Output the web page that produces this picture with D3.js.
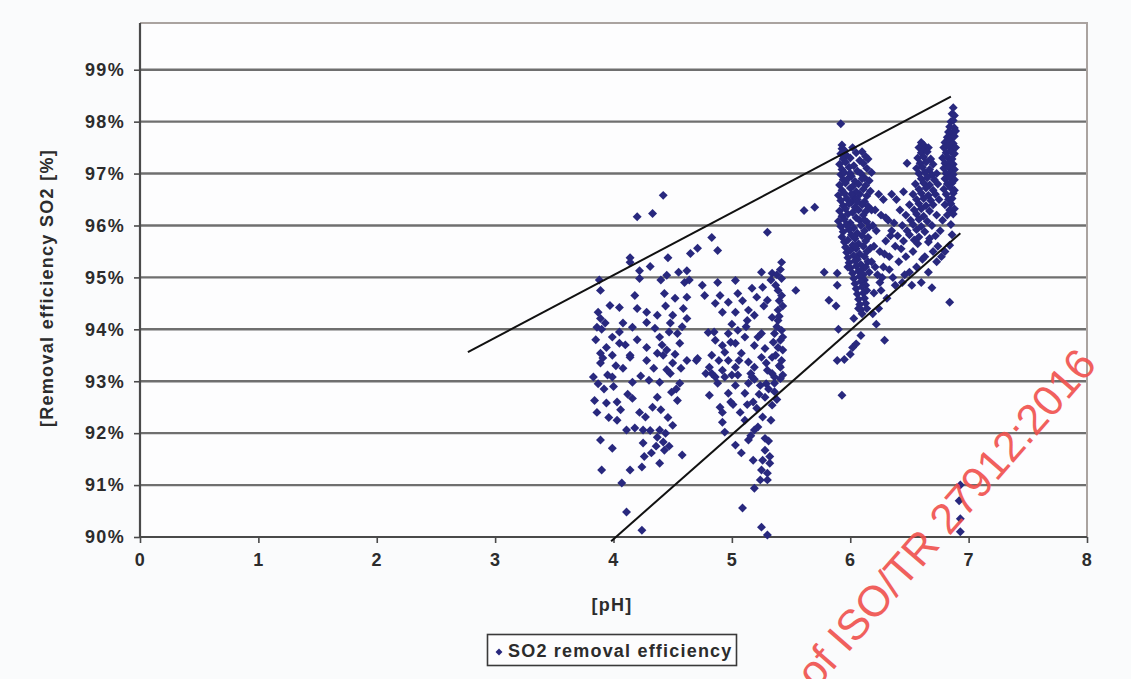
<!DOCTYPE html>
<html><head><meta charset="utf-8">
<script src="https://cdn.jsdelivr.net/npm/d3@7/dist/d3.min.js"></script>
<style>
html,body{margin:0;padding:0;background:#fafbfc;}
svg{display:block;}
text{font-family:"Liberation Sans",Arial,sans-serif;}
</style></head>
<body>
<svg id="chart" width="1131" height="679"></svg>
<script>
// ---- data (pH, SO2 removal efficiency %) ----
const lowPhPoints = [
[4.42,96.58],[4.20,96.17],[4.33,96.23],[4.14,95.38],[4.14,95.29],[4.22,95.13],[4.31,95.21],[4.46,95.38],
[4.65,95.46],[4.62,95.13],[4.45,95.04],[4.22,94.98],[3.89,94.75],[4.43,94.69],[4.62,94.62],[3.97,94.46],
[4.05,94.42],[4.20,94.40],[4.28,94.33],[4.37,94.27],[4.59,94.40],[4.62,94.21],[3.87,94.33],[3.89,94.21],
[3.93,94.12],[4.08,94.12],[4.16,94.04],[4.28,94.13],[4.48,94.12],[4.50,94.27],[3.86,94.04],[3.99,93.85],
[4.39,93.85],[4.54,93.92],[3.94,93.65],[4.05,93.73],[4.28,93.65],[4.45,93.60],[4.56,93.73],[3.89,93.54],
[4.14,93.50],[4.37,93.54],[3.89,93.35],[3.99,93.50],[4.14,93.46],[4.28,93.40],[4.42,93.50],[4.50,93.35],
[4.62,93.40],[4.70,93.40],[3.83,93.08],[3.99,93.08],[4.08,93.25],[4.16,92.98],[4.39,92.98],[4.48,93.15],
[4.56,92.96],[4.49,92.79],[3.84,92.63],[3.94,92.58],[4.03,92.60],[4.16,92.67],[4.37,92.69],[4.54,92.63],
[4.22,92.40],[4.27,92.31],[4.03,92.25],[4.11,92.06],[4.18,92.10],[4.25,92.06],[4.39,92.06],[4.50,92.15],
[4.37,91.92],[4.42,91.83],[3.89,91.87],[3.99,91.71],[4.25,91.81],[4.32,91.62],[4.43,91.67],[4.58,91.58],
[4.39,91.42],[3.90,91.29],[4.14,91.29],[4.24,91.35],[4.07,91.04],[4.11,90.48],[4.24,90.13],
[3.90,94.00],[4.45,93.22],[4.52,93.52],[4.35,94.02],[4.30,93.02],[4.20,93.80],[4.00,92.90],[3.95,93.12],
[4.60,94.90],[4.55,95.10],[3.86,92.40],[3.92,92.85],[4.33,92.50],[4.46,92.30],[4.05,93.95],[4.18,94.65],
[4.40,94.95],[4.57,93.25],[3.88,94.95],[4.26,91.55],[4.47,91.75],[4.12,92.75],
[3.85,93.80],[3.91,93.45],[3.87,92.95],[3.96,92.30],[4.02,93.30],[4.44,94.45],[4.52,94.60],[4.58,94.05],
[4.41,93.70],[4.47,93.95],[4.34,93.25],[4.40,92.45],[4.44,92.00],[4.23,93.10],[4.10,93.70],[4.06,92.45],
[4.31,92.05],[4.36,91.75],[4.64,94.95],[4.53,92.85]
];
const midPhPoints = [
[5.30,95.87],[4.83,95.77],[4.71,95.56],[4.88,95.52],[5.42,95.29],[5.25,95.10],[5.34,95.08],[5.42,94.98],
[4.88,94.90],[5.03,94.94],[4.77,94.65],[4.97,94.52],[5.05,94.69],[5.17,94.79],[5.26,94.81],[5.21,94.62],
[5.30,94.56],[5.39,94.75],[4.86,94.50],[4.92,94.33],[5.03,94.33],[5.14,94.37],[5.19,94.27],[5.13,94.17],
[5.39,94.37],[5.39,94.17],[5.34,94.23],[4.80,93.94],[4.97,93.92],[5.05,93.98],[5.11,93.85],[5.25,93.92],
[5.36,93.92],[5.42,93.98],[5.41,93.79],[4.86,93.79],[4.92,93.69],[5.03,93.73],[5.19,93.69],[5.28,93.63],
[5.39,93.65],[5.43,93.60],[4.71,93.44],[4.83,93.50],[4.94,93.56],[4.97,93.40],[5.08,93.54],[5.14,93.37],
[5.25,93.46],[5.34,93.46],[5.42,93.40],[4.81,93.27],[4.92,93.21],[5.03,93.27],[5.19,93.27],[5.30,93.21],
[5.41,93.27],[4.86,93.08],[5.00,93.12],[5.17,93.08],[5.36,93.08],[4.83,93.15],[4.94,93.08],[5.05,93.12],
[5.19,93.04],[5.34,93.15],[5.43,93.12],[4.88,92.96],[5.03,92.92],[5.14,92.96],[5.24,92.92],[5.36,92.96],
[4.81,92.73],[4.97,92.77],[5.11,92.77],[5.18,92.60],[5.28,92.69],[5.34,92.54],[4.90,92.50],[4.92,92.40],
[5.07,92.40],[5.21,92.48],[5.26,92.31],[5.11,92.25],[4.92,92.21],[4.94,92.02],[5.19,92.06],[5.22,92.12],
[5.14,91.87],[5.03,91.77],[5.08,91.62],[5.28,91.67],[5.26,91.48],[5.18,91.48],[5.32,91.42],[5.25,91.29],
[5.30,91.23],[5.24,91.10],[5.30,91.10],[5.19,90.94],[5.09,90.56],[5.25,90.19],[5.30,90.04],
[5.40,94.55],[5.37,94.85],[5.41,95.15],[5.38,94.05],[5.43,93.85],[5.35,93.75],[5.40,93.30],[5.36,92.80],
[5.31,92.85],[5.29,93.35],[4.75,94.85],[4.90,94.65],[5.00,94.10],[5.09,94.55],[5.16,93.15],[4.99,92.60],
[5.54,94.75],[5.32,91.55],[5.28,91.90],[5.33,92.25],
[5.38,95.05],[5.42,94.65],[5.40,94.25],[5.43,94.45],[5.37,93.50],[5.41,93.05],[5.38,92.65],[5.33,94.95],
[5.27,94.45],[5.22,93.85],[5.12,94.05],[5.06,93.40],[4.99,93.75],[4.89,93.40],[4.85,93.95],[4.78,93.15],
[5.01,92.55],[5.13,92.55],[5.23,92.75],[5.29,92.95],[5.16,91.95],[5.31,91.85]
];
const nearSixPoints = [
[5.92,97.96],[5.93,97.55],[5.61,96.29],[5.70,96.35],[5.78,95.10],[5.89,95.08],[5.89,94.85],[5.82,94.56],
[5.88,94.45],[5.90,94.00],[5.95,93.42],[5.89,93.40],[6.00,93.52],[6.02,93.65],[6.05,93.72],[6.09,93.88],
[6.03,94.21],[5.93,92.73],[6.29,93.79],
[5.93,97.48],[5.95,97.45],[6.02,97.5],[6.10,97.42],[5.92,97.38],[5.97,97.35],[6.05,97.40],[6.13,97.33],
[5.94,97.28],[6.00,97.30],[6.08,97.25],[6.15,97.28],[5.91,97.18],[5.96,97.22],[6.03,97.15],[6.11,97.20],
[5.93,97.08],[5.99,97.12],[6.06,97.05],[6.14,97.10],[6.18,97.02],[5.92,96.98],[5.95,97.02],[6.01,96.95],
[6.09,97.0],[6.12,96.92],[5.94,96.88],[5.98,96.9],[6.04,96.85],[6.10,96.9],[6.16,96.86],[5.91,96.78],
[5.96,96.82],[6.02,96.75],[6.07,96.8],[6.13,96.77],[5.93,96.68],[6.00,96.72],[6.05,96.65],[6.11,96.7],
[6.17,96.66],[5.90,96.58],[5.95,96.62],[6.03,96.55],[6.08,96.6],[6.14,96.57],[5.92,96.48],[5.97,96.52],
[6.01,96.45],[6.06,96.5],[6.12,96.46],[5.94,96.38],[5.99,96.42],[6.04,96.35],[6.10,96.4],[6.15,96.37],
[5.91,96.28],[5.96,96.32],[6.02,96.25],[6.07,96.3],[6.13,96.27],[6.18,96.3],[5.93,96.18],[5.98,96.22],
[6.05,96.15],[6.11,96.2],[5.90,96.08],[5.95,96.12],[6.00,96.05],[6.08,96.1],[6.14,96.07],[5.92,95.98],
[5.97,96.02],[6.03,95.95],[6.09,96.0],[6.16,95.97],[5.94,95.88],[5.99,95.92],[6.06,95.85],[6.12,95.9],
[5.93,95.78],[6.01,95.82],[6.04,95.75],[6.10,95.8],[6.15,95.77],[5.95,95.68],[5.98,95.72],[6.07,95.65],
[6.13,95.7],[5.96,95.58],[6.02,95.62],[6.05,95.55],[6.11,95.6],[6.17,95.56],[5.97,95.48],[6.00,95.52],
[6.08,95.45],[6.14,95.5],[5.98,95.38],[6.03,95.42],[6.06,95.35],[6.12,95.4],[5.99,95.28],[6.04,95.32],
[6.09,95.25],[6.15,95.3],[6.00,95.18],[6.05,95.22],[6.10,95.15],[6.13,95.2],[6.02,95.08],[6.07,95.12],
[6.11,95.05],[6.16,95.1],[6.03,94.98],[6.08,95.02],[6.12,94.95],[6.04,94.88],[6.09,94.92],[6.13,94.85],
[6.05,94.78],[6.10,94.82],[6.14,94.75],[6.06,94.68],[6.11,94.7],[6.07,94.58],[6.12,94.6],[6.08,94.48],
[6.13,94.5],[6.09,94.38],[6.14,94.4],[6.10,94.3],[6.00,97.0],[6.06,96.45],[5.97,96.0],[6.04,95.6],
[6.12,96.1],[6.01,96.6],[5.98,95.2],[6.07,94.4]
];
const highPhPoints = [
[6.87,98.27],[6.86,98.15],[6.88,98.12],[6.85,98.0],[6.87,98.02],[6.84,97.9],[6.88,97.88],[6.83,97.8],
[6.86,97.78],[6.89,97.82],[6.82,97.7],[6.85,97.68],[6.88,97.72],[6.80,97.6],[6.84,97.62],[6.87,97.58],
[6.79,97.5],[6.83,97.52],[6.86,97.48],[6.89,97.5],[6.81,97.4],[6.85,97.42],[6.88,97.38],[6.78,97.3],
[6.82,97.32],[6.86,97.28],[6.80,97.2],[6.84,97.22],[6.87,97.18],[6.79,97.1],[6.83,97.12],[6.88,97.08],
[6.81,97.0],[6.85,97.02],[6.87,96.98],[6.80,96.9],[6.84,96.92],[6.88,96.88],[6.82,96.8],[6.86,96.82],
[6.79,96.7],[6.85,96.72],[6.88,96.68],[6.81,96.6],[6.87,96.62],[6.83,96.5],[6.86,96.52],[6.80,96.4],
[6.85,96.42],[6.84,96.3],[6.88,96.32],[6.82,96.2],[6.87,96.22],[6.85,96.02],[6.86,95.82],[6.84,95.62],
[6.80,95.5],[6.84,94.52],
[6.60,97.6],[6.62,97.55],[6.58,97.5],[6.63,97.48],[6.66,97.5],[6.60,97.4],[6.65,97.42],[6.57,97.3],
[6.62,97.32],[6.68,97.28],[6.59,97.2],[6.64,97.22],[6.70,97.18],[6.56,97.1],[6.61,97.12],[6.67,97.08],
[6.58,97.0],[6.63,97.02],[6.69,96.98],[6.73,97.0],[6.60,96.9],[6.65,96.92],[6.71,96.88],[6.55,96.8],
[6.62,96.82],[6.67,96.78],[6.74,96.8],[6.58,96.7],[6.64,96.72],[6.70,96.68],[6.53,96.6],[6.60,96.62],
[6.66,96.58],[6.72,96.6],[6.56,96.5],[6.62,96.52],[6.68,96.48],[6.75,96.5],[6.50,96.4],[6.58,96.42],
[6.64,96.38],[6.70,96.4],[6.54,96.3],[6.60,96.32],[6.67,96.28],[6.47,96.2],[6.56,96.22],[6.62,96.18],
[6.73,96.2],[6.51,96.1],[6.58,96.12],[6.65,96.08],[6.44,96.0],[6.53,96.02],[6.60,95.98],[6.69,96.0],
[6.48,95.9],[6.56,95.92],[6.63,95.88],[6.40,95.8],[6.50,95.82],[6.58,95.78],[6.72,95.8],[6.45,95.7],
[6.54,95.72],[6.66,95.68],[6.48,97.2],[6.37,96.05],[6.42,96.3],[6.35,95.9],[6.32,96.1],[6.39,96.5],
[6.45,96.65],[6.30,96.15],
[6.22,95.9],[6.25,95.5],[6.28,95.2],[6.30,95.7],[6.33,95.4],[6.36,95.0],[6.38,95.6],[6.41,95.3],
[6.44,94.9],[6.47,95.4],[6.50,95.1],[6.53,95.5],[6.56,95.2],[6.60,94.9],[6.63,95.4],[6.66,95.1],
[6.70,95.5],[6.73,95.3],[6.76,95.9],[6.78,96.1],[6.69,94.8],[6.20,94.7],[6.24,94.4],[6.27,95.0],
[6.31,94.6],[6.18,95.3],[6.21,96.3],[6.26,96.2],[6.34,95.8],[6.23,95.05],[6.19,94.3],[6.22,94.1],
[6.26,94.75],[6.29,95.45],[6.33,95.15],[6.38,94.85],[6.43,95.55],[6.46,95.05],[6.52,94.85],[6.57,95.65],
[6.61,95.35],[6.67,95.75],[6.74,95.6],[6.77,95.4],[6.20,95.6],[6.24,96.6],[6.28,96.5],[6.35,96.6],
[6.19,96.0],[6.21,95.2],[6.25,94.9]
];
const outlierPoints = [[6.93,91.00],[6.92,90.70],[6.93,90.35],[6.93,90.10]];
const upperTrend = [[2.77,93.56],[6.85,98.48]];
const lowerTrend = [[3.98,89.92],[6.93,95.85]];
const xTicks = [0,1,2,3,4,5,6,7,8];
const yTicks = [90,91,92,93,94,95,96,97,98,99];
const yTitle = "[Removal efficiency SO2 [%]";
const xTitle = "[pH]";
const seriesName = "SO2 removal efficiency";

// ---- chart ----
const svg = d3.select("#chart");
const x = d3.scaleLinear().domain([0,8]).range([140,1087]);
const y = d3.scaleLinear().domain([90,99.9]).range([537,23]);
const gridCol = "#6f6f6f", textCol = "#2c2c2c", pointCol = "#28287e";

// plot background
svg.append("rect").attr("x",x(0)).attr("y",y(99.9)).attr("width",x(8)-x(0)).attr("height",y(90)-y(99.9)).attr("fill","#fdfdfe");

// gridlines
svg.append("g").selectAll("line").data(yTicks.filter(d=>d>90)).join("line")
  .attr("x1",x(0)).attr("x2",x(8)).attr("y1",d=>y(d)).attr("y2",d=>y(d))
  .attr("stroke",gridCol).attr("stroke-width",2.4);
// top & right border
svg.append("path").attr("d",`M${x(0)},${y(99.9)}H${x(8)}V${y(90)}`).attr("fill","none")
  .attr("stroke","#aaa3a0").attr("stroke-width",2);

// axes
const yAxis = d3.axisLeft(y).tickValues(yTicks).tickFormat(d=>d+"%").tickSize(6).tickPadding(9);
const gy = svg.append("g").attr("transform",`translate(${x(0)},0)`).call(yAxis);
const xAxis = d3.axisBottom(x).tickValues(xTicks).tickFormat(d3.format("d")).tickSize(6).tickPadding(10);
const gx = svg.append("g").attr("transform",`translate(0,${y(90)})`).call(xAxis);
[gx,gy].forEach(g=>{
  g.select(".domain").attr("stroke","#4a4a4a").attr("stroke-width",2.2);
  g.selectAll(".tick line").attr("stroke","#4a4a4a").attr("stroke-width",1.6);
  g.selectAll(".tick text").attr("fill",textCol).attr("font-size",18).attr("font-weight","bold")
    .attr("font-family","'Liberation Sans',Arial,sans-serif").attr("letter-spacing","1.3px");
});
gx.select(".domain").attr("d",`M${x(0)},0H${x(8)}`);
gy.select(".domain").attr("d",`M0,${y(99.9)}V${y(90)}`);

// titles
svg.append("text").attr("x",612).attr("y",611).attr("text-anchor","middle")
  .attr("font-size",18).attr("font-weight","bold").attr("fill",textCol).attr("letter-spacing","1.3px").text(xTitle);
svg.append("text").attr("transform",`translate(53,${(y(90)+y(99.9))/2+8}) rotate(-90)`).attr("text-anchor","middle")
  .attr("font-size",18).attr("font-weight","bold").attr("fill",textCol).attr("letter-spacing","1.3px").text(yTitle);

// points
const allPoints = [].concat(lowPhPoints, midPhPoints, nearSixPoints, highPhPoints, outlierPoints);
const diamond = d3.symbol().type(d3.symbolSquare).size(40);
svg.append("g").selectAll("path").data(allPoints).join("path")
  .attr("d",diamond).attr("fill",pointCol)
  .attr("transform",d=>`translate(${x(d[0])},${y(d[1])}) rotate(45)`);

// trend lines
const line = d3.line().x(d=>x(d[0])).y(d=>y(d[1]));
[upperTrend, lowerTrend].forEach(t=>svg.append("path").attr("d",line(t)).attr("fill","none")
  .attr("stroke","#111").attr("stroke-width",2));

// legend
const lg = svg.append("g");
lg.append("rect").attr("x",487.5).attr("y",634.5).attr("width",249).attr("height",31)
  .attr("fill","#fdfdfe").attr("stroke","#3a3a3a").attr("stroke-width",1.6);
lg.append("path").attr("d",d3.symbol().type(d3.symbolSquare).size(24)).attr("fill",pointCol)
  .attr("transform","translate(499,652) rotate(45)");
lg.append("text").attr("x",508).attr("y",657).attr("font-size",18).attr("font-weight","bold")
  .attr("fill",textCol).attr("letter-spacing","1.2px").text(seriesName);

// document watermark (partly outside the page, as in the source)
svg.append("text").attr("transform","translate(816,690) rotate(-49)")
  .attr("font-size",43).attr("fill","#f0504c").attr("opacity",0.9).text("of ISO/TR 27912:2016");
</script>
</body></html>
